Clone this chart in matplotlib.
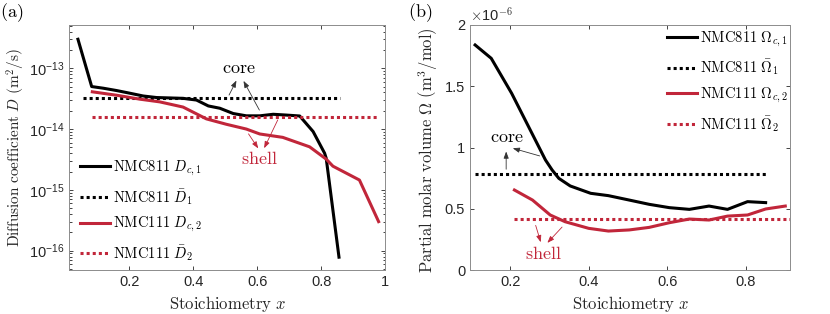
import numpy as np
import matplotlib
matplotlib.use("Agg")
import matplotlib.pyplot as plt
from matplotlib.ticker import LogLocator, NullFormatter

plt.rcParams["mathtext.fontset"] = "cm"
plt.rcParams["font.family"] = ["Liberation Sans", "DejaVu Sans"]

RED = "#c1263a"

# ---- panel (a): diffusion coefficient ----
x_D1 = [0.039, 0.082, 0.118, 0.16, 0.2, 0.243, 0.285, 0.368, 0.41, 0.447,
        0.483, 0.525, 0.566, 0.608, 0.65, 0.69, 0.733, 0.775, 0.811, 0.816, 0.856]
D1 = [3.0e-13, 5.0e-14, 4.7e-14, 4.3e-14, 3.9e-14, 3.5e-14, 3.3e-14, 3.2e-14,
      3.0e-14, 2.4e-14, 2.2e-14, 1.8e-14, 1.65e-14, 1.65e-14, 1.75e-14, 1.7e-14,
      1.64e-14, 9.1e-15, 4.0e-15, 3.3e-15, 7.8e-17]
x_D2 = [0.084, 0.16, 0.233, 0.295, 0.368, 0.441, 0.503, 0.566, 0.608, 0.68,
        0.764, 0.816, 0.837, 0.92, 0.98]
D2 = [4.1e-14, 3.6e-14, 3.1e-14, 2.8e-14, 2.3e-14, 1.47e-14, 1.2e-14, 1.0e-14,
      8.3e-15, 7.3e-15, 5.1e-15, 3.2e-15, 2.45e-15, 1.45e-15, 3.0e-16]
Dbar1, Dbar1_x = 3.3e-14, [0.056, 0.858]
Dbar2, Dbar2_x = 1.55e-14, [0.082, 0.98]
D_ticks = [1e-16, 1e-15, 1e-14, 1e-13]

# ---- panel (b): partial molar volume (units 1e-6) ----
x_O1 = [0.111, 0.152, 0.204, 0.247, 0.29, 0.307, 0.324, 0.353, 0.405, 0.45,
        0.503, 0.554, 0.605, 0.656, 0.706, 0.753, 0.804, 0.85]
O1 = [1.837, 1.728, 1.442, 1.17, 0.898, 0.816, 0.748, 0.686, 0.626, 0.607,
      0.571, 0.536, 0.509, 0.495, 0.522, 0.495, 0.558, 0.55]
x_O2 = [0.211, 0.257, 0.302, 0.34, 0.4, 0.45, 0.503, 0.554, 0.605, 0.656,
        0.706, 0.753, 0.804, 0.85, 0.9]
O2 = [0.653, 0.571, 0.449, 0.394, 0.34, 0.318, 0.327, 0.348, 0.386, 0.416,
      0.408, 0.44, 0.449, 0.498, 0.522]
Obar1, Obar1_x = 0.784, [0.111, 0.852]
Obar2, Obar2_x = 0.416, [0.211, 0.911]

SCALE = 1e-6

fig = plt.figure(figsize=(8.3, 3.14), dpi=100)
ax1 = fig.add_axes([69 / 830, 44 / 314, 316 / 830, 245 / 314])
ax2 = fig.add_axes([470 / 830, 44 / 314, 320 / 830, 245 / 314])

lw = 2.2
dot = (0, (1, 1))
leg_kw = dict(frameon=False, fontsize=10.5, handlelength=2.05, handletextpad=0.2,
              labelspacing=0.6, borderaxespad=0, loc="center left")

ax1.semilogy(x_D1, D1, color="k", lw=lw, label=r"$\mathrm{NMC811}\ D_{c,1}$")
ax1.semilogy(Dbar1_x, [Dbar1, Dbar1], color="k", lw=lw, ls=dot,
             label=r"$\mathrm{NMC811}\ \bar{D}_1$")
ax1.semilogy(x_D2, D2, color=RED, lw=lw, label=r"$\mathrm{NMC111}\ D_{c,2}$")
ax1.semilogy(Dbar2_x, [Dbar2, Dbar2], color=RED, lw=lw, ls=dot,
             label=r"$\mathrm{NMC111}\ \bar{D}_2$")
ax1.set_xlim(0.011, 1)
ax1.set_ylim(4.8e-17, 5.15e-13)
ax1.set_yticks(D_ticks)
ax1.yaxis.set_minor_locator(LogLocator(base=10, subs=np.arange(2, 10)))
ax1.yaxis.set_minor_formatter(NullFormatter())
ax1.set_xticks([0.2, 0.4, 0.6, 0.8, 1.0])
ax1.set_xticklabels(["0.2", "0.4", "0.6", "0.8", "1"])
ax1.set_ylabel(r"$\mathrm{Diffusion\ coefficient}\ D\ \mathrm{(m^2/s)}$", fontsize=11)
ax1.yaxis.set_label_coords(-0.133, 0.5)
ax1.set_xlabel(r"$\mathrm{Stoichiometry}\ x$", fontsize=12)

# annotations (a)
ann_core = dict(arrowstyle="-|>,head_length=0.4,head_width=0.15", color="#333333", lw=0.6)
ann_shell = dict(arrowstyle="-|>,head_length=0.4,head_width=0.15", color=RED, lw=0.6)
ax1.text(0.542, 1.0e-13, r"$\mathrm{core}$", ha="center", va="center", fontsize=13)
ax1.annotate("", xy=(0.539, 6.9e-14), xytext=(0.508, Dbar1), arrowprops=ann_core)
ax1.annotate("", xy=(0.553, 6.8e-14), xytext=(0.611, 1.87e-14), arrowprops=ann_core)
ax1.text(0.608, 3.1e-15, r"$\mathrm{shell}$", ha="center", va="center",
         fontsize=13, color=RED)
ax1.annotate("", xy=(0.608, 4.4e-15), xytext=(0.568, 9.1e-15), arrowprops=ann_shell)
ax1.annotate("", xy=(0.618, 4.4e-15), xytext=(0.668, Dbar2), arrowprops=ann_shell)

ax1.legend(bbox_to_anchor=(0.017, 0.241), **leg_kw)

ax2.plot(x_O1, np.array(O1) * SCALE, color="k", lw=lw,
         label=r"$\mathrm{NMC811}\ \Omega_{c,1}$")
ax2.plot(Obar1_x, np.array([Obar1, Obar1]) * SCALE, color="k", lw=lw, ls=dot,
         label=r"$\mathrm{NMC811}\ \bar{\Omega}_1$")
ax2.plot(x_O2, np.array(O2) * SCALE, color=RED, lw=lw,
         label=r"$\mathrm{NMC111}\ \Omega_{c,2}$")
ax2.plot(Obar2_x, np.array([Obar2, Obar2]) * SCALE, color=RED, lw=lw, ls=dot,
         label=r"$\mathrm{NMC111}\ \bar{\Omega}_2$")
ax2.set_xlim(0.098, 0.912)
ax2.set_ylim(0, 2e-6)
ax2.set_xticks([0.2, 0.4, 0.6, 0.8])
ax2.set_yticks(np.array([0, 0.5, 1, 1.5, 2]) * SCALE)
ax2.set_yticklabels(["0", "0.5", "1", "1.5", "2"])
ax2.text(0.0, 1.005, r"$\times$10$^{-6}$", transform=ax2.transAxes,
         ha="left", va="bottom", fontsize=10.5, color="#262626")
ax2.set_ylabel(r"$\mathrm{Partial\ molar\ volume}\ \Omega\ \mathrm{(m^3/mol)}$", fontsize=12)
ax2.yaxis.set_label_coords(-0.094, 0.49)
ax2.set_xlabel(r"$\mathrm{Stoichiometry}\ x$", fontsize=12)

ax2.text(0.191, 1.08e-6, r"$\mathrm{core}$", ha="center", va="center", fontsize=13)
ax2.annotate("", xy=(0.19, 0.99e-6), xytext=(0.19, 0.80e-6), arrowprops=ann_core)
ax2.annotate("", xy=(0.2, 1.0e-6), xytext=(0.282, 0.925e-6), arrowprops=ann_core)
ax2.text(0.285, 0.13e-6, r"$\mathrm{shell}$", ha="center", va="center",
         fontsize=13, color=RED)
ax2.annotate("", xy=(0.28, 0.205e-6), xytext=(0.263, 0.386e-6), arrowprops=ann_shell)
ax2.annotate("", xy=(0.29, 0.205e-6), xytext=(0.337, 0.367e-6), arrowprops=ann_shell)

ax2.legend(bbox_to_anchor=(0.598, 0.769), **leg_kw)

for ax in (ax1, ax2):
    ax.tick_params(which="both", direction="in", top=True, right=True,
                   labelsize=10.5, colors="#262626", length=3, width=0.6)
    ax.tick_params(which="minor", length=1.8)
    for s in ax.spines.values():
        s.set_color("#8c8c8c")
        s.set_linewidth(0.7)
    ax.xaxis.label.set_color("#262626")
    ax.yaxis.label.set_color("#262626")

fig.text(0.0, 0.96, r"$\mathrm{(a)}$", fontsize=13, ha="left", va="center")
fig.text(408 / 830, 0.96, r"$\mathrm{(b)}$", fontsize=13, ha="left", va="center")

fig.savefig("out.png", dpi=100)
